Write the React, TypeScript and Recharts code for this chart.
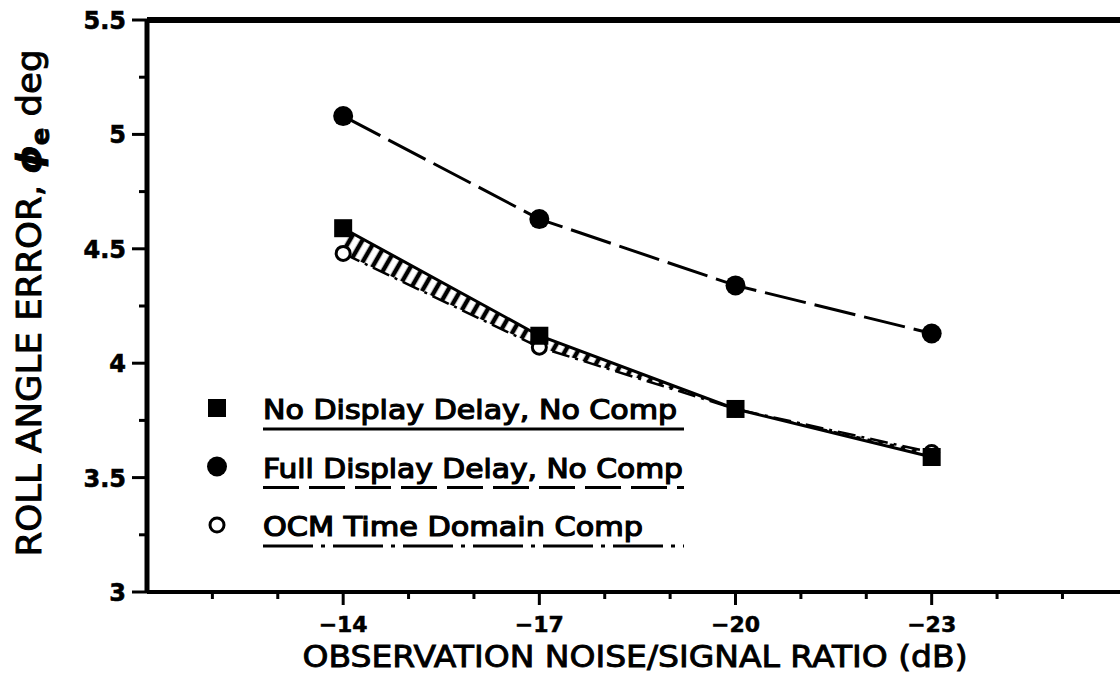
import React from "react";
import { ComposedChart, Line, Area, XAxis, YAxis, Legend, ReferenceLine } from "recharts";

// observation noise / signal ratio (dB)
const noiseRatio = [-14, -17, -20, -23];
// roll angle error (deg)
const noDelayNoComp = [4.59, 4.12, 3.8, 3.59];
const fullDelayNoComp = [5.08, 4.63, 4.34, 4.13];
const ocmTimeDomain = [4.48, 4.07, 3.8, 3.61];

const seriesNames = ["No Display Delay, No Comp", "Full Display Delay, No Comp", "OCM Time Domain Comp"];

const xTicks = [-12, -13, -14, -15, -16, -17, -18, -19, -20, -21, -22, -23, -24, -25];
const xMajor = [-14, -17, -20, -23];
const yTicks = [3, 3.25, 3.5, 3.75, 4, 4.25, 4.5, 4.75, 5, 5.25, 5.5];
const yMajor = [3, 3.5, 4, 4.5, 5, 5.5];

const data = noiseRatio.map((x, i) => ({
  x,
  noDelay: noDelayNoComp[i],
  fullDelay: fullDelayNoComp[i],
  ocm: ocmTimeDomain[i],
  band: [ocmTimeDomain[i], noDelayNoComp[i]],
}));

const FONT = "'DejaVu Sans', sans-serif";

function XTick(props: any) {
  const { x, y, payload } = props;
  const major = xMajor.includes(payload.value);
  return (
    <g>
      <line x1={x} x2={x} y1={y} y2={y + (major ? 13 : 7)} stroke="#000" strokeWidth={3} />
      {major && (
        <text
          x={x}
          y={y + 40}
          textAnchor="middle"
          fontFamily={FONT}
          fontWeight="bold"
          fontSize={22}
          fill="#000"
          stroke="#000"
          strokeWidth={0.5}
        >
          {"\u2212" + Math.abs(payload.value)}
        </text>
      )}
    </g>
  );
}

function YTick(props: any) {
  const { x, y, payload } = props;
  const major = yMajor.includes(payload.value);
  return (
    <g>
      <line x1={x - (major ? 15 : 8)} x2={x} y1={y} y2={y} stroke="#000" strokeWidth={3} />
      {major && (
        <text
          x={x - 21}
          y={y + 9}
          textAnchor="end"
          fontFamily={FONT}
          fontWeight="bold"
          fontSize={24}
          fill="#000"
          stroke="#000"
          strokeWidth={0.6}
        >
          {String(payload.value)}
        </text>
      )}
    </g>
  );
}

const squareDot = (p: any) => (
  <rect key={`sq-${p.index}`} x={p.cx - 9} y={p.cy - 9} width={18} height={18} fill="#000" />
);
const fullDot = (p: any) => <circle key={`fd-${p.index}`} cx={p.cx} cy={p.cy} r={10} fill="#000" />;
const openDot = (p: any) => (
  <circle key={`oc-${p.index}`} cx={p.cx} cy={p.cy} r={7} fill="#fff" stroke="#000" strokeWidth={3} />
);

const underlines = ["none", "36 10", "50 8 4 8"];
const textWidths = [414, 420, 380];

function LegendBox() {
  return (
    <svg width={520} height={180}>
      {seriesNames.map((name, i) => {
        const my = 28 + 58.5 * i;
        return (
          <g key={name}>
            {i === 0 && <rect x={18} y={my - 9} width={18} height={18} fill="#000" />}
            {i === 1 && <circle cx={27} cy={my} r={10} fill="#000" />}
            {i === 2 && <circle cx={27} cy={my} r={7} fill="#fff" stroke="#000" strokeWidth={3} />}
            <text
              x={73}
              y={my + 11}
              fontFamily={FONT}
              fontSize={26}
              fill="#000"
              stroke="#000"
              strokeWidth={1.2}
              textLength={textWidths[i]}
              lengthAdjust="spacingAndGlyphs"
            >
              {name}
            </text>
            <line
              x1={73}
              x2={494}
              y1={my + 21}
              y2={my + 21}
              stroke="#000"
              strokeWidth={3}
              strokeDasharray={underlines[i] === "none" ? undefined : underlines[i]}
            />
          </g>
        );
      })}
    </svg>
  );
}

const XTitle = () => (
  <text
    x={635}
    y={667}
    textAnchor="middle"
    fontFamily={FONT}
    fontSize={30}
    fill="#000"
    stroke="#000"
    strokeWidth={0.9}
    textLength={665}
    lengthAdjust="spacingAndGlyphs"
  >
    OBSERVATION NOISE/SIGNAL RATIO (dB)
  </text>
);

const YTitle = () => (
  <text
    transform="translate(41, 303) rotate(-90)"
    textAnchor="middle"
    fontFamily={FONT}
    fontSize={33}
    fill="#000"
    stroke="#000"
    strokeWidth={0.9}
    textLength={507}
    lengthAdjust="spacingAndGlyphs"
  >
    ROLL ANGLE ERROR,{" "}
    <tspan fontStyle="italic" fontWeight="bold">{"\u03D5"}</tspan>
    <tspan dy={8} fontSize={24} fontWeight="bold">e</tspan>
    <tspan dy={-8}> deg</tspan>
  </text>
);

export default function App() {
  return (
    <div style={{ position: "absolute", left: 0, top: 0, background: "#fff" }}>
      <ComposedChart width={1120} height={687} data={data} margin={{ top: 20, right: 0, bottom: 0, left: 0 }}>
        <defs>
          <pattern id="hatch" width={11} height={11} patternUnits="userSpaceOnUse" patternTransform="rotate(30)">
            <line x1={5} y1={0} x2={5} y2={11} stroke="#000" strokeWidth={4.5} />
          </pattern>
        </defs>
        <XAxis
          dataKey="x"
          type="number"
          domain={[-25.88, -11]}
          reversed
          ticks={xTicks}
          interval={0}
          tickSize={0}
          tickMargin={0}
          tickLine={false}
          tick={<XTick />}
          axisLine={{ stroke: "#000", strokeWidth: 4 }}
          height={95}
          label={{ content: XTitle }}
        />
        <YAxis
          type="number"
          domain={[3, 5.5]}
          ticks={yTicks}
          interval={0}
          width={147}
          tickSize={0}
          tickMargin={0}
          tickLine={false}
          tick={<YTick />}
          axisLine={{ stroke: "#000", strokeWidth: 5 }}
          label={{ content: YTitle }}
        />
        <ReferenceLine y={5.5} stroke="#000" strokeWidth={6} />
        <Area
          dataKey="band"
          type="linear"
          fill="url(#hatch)"
          fillOpacity={1}
          stroke="none"
          isAnimationActive={false}
          legendType="none"
        />
        <Line
          dataKey="ocm"
          name={seriesNames[2]}
          type="linear"
          stroke="#000"
          strokeWidth={2.5}
          strokeDasharray="18 6 3 6"
          dot={openDot}
          activeDot={false}
          isAnimationActive={false}
        />
        <Line
          dataKey="noDelay"
          name={seriesNames[0]}
          type="linear"
          stroke="#000"
          strokeWidth={3}
          dot={squareDot}
          activeDot={false}
          isAnimationActive={false}
        />
        <Line
          dataKey="fullDelay"
          name={seriesNames[1]}
          type="linear"
          stroke="#000"
          strokeWidth={3}
          strokeDasharray="42 9"
          dot={fullDot}
          activeDot={false}
          isAnimationActive={false}
        />
        <Legend
          layout="vertical"
          align="center"
          verticalAlign="middle"
          content={LegendBox}
          wrapperStyle={{ position: "absolute", left: 190, top: 380, width: 520, height: 180 }}
        />
      </ComposedChart>
    </div>
  );
}
